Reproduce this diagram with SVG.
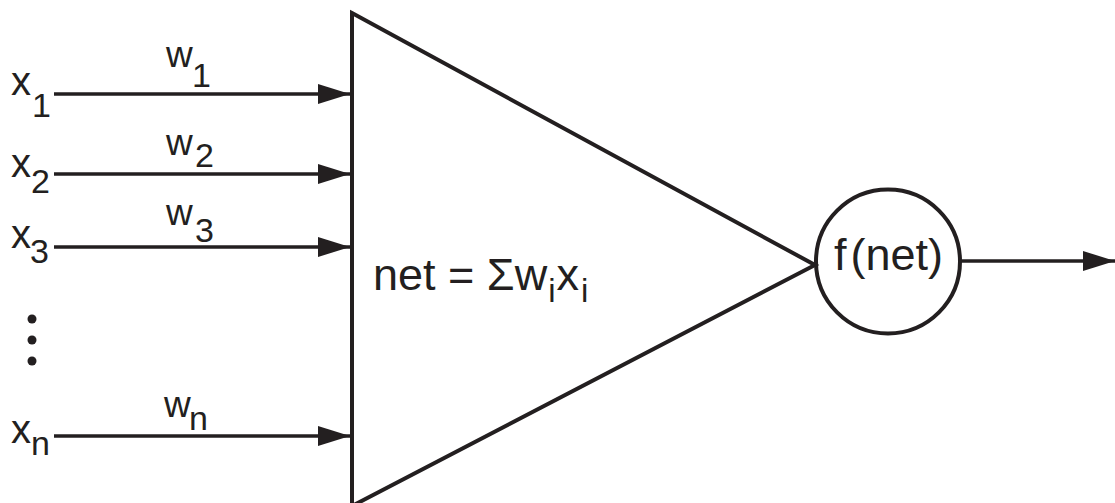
<svg xmlns="http://www.w3.org/2000/svg" width="1115" height="503" viewBox="0 0 1115 503">
<style>
.t{font-family:"Liberation Sans",Arial,sans-serif;fill:#231f20}
.x{font-size:40px}
.w{font-size:37px}
.s{font-size:34px}
.ln{stroke:#231f20;stroke-width:3.5;fill:none}
.shape{stroke:#231f20;stroke-width:4;fill:none}
</style>
<defs>
<marker id="ah" markerUnits="userSpaceOnUse" markerWidth="34" markerHeight="22" refX="32" refY="10" orient="auto">
<path d="M0,0 L32,10 L0,20 Z" fill="#231f20"/>
</marker>
</defs>
<rect width="1115" height="503" fill="#fff"/>
<g id="connectors">
<line class="ln" x1="54" y1="94" x2="350" y2="94" marker-end="url(#ah)"/>
<line class="ln" x1="54" y1="174" x2="350" y2="174" marker-end="url(#ah)"/>
<line class="ln" x1="54" y1="247" x2="350" y2="247" marker-end="url(#ah)"/>
<line class="ln" x1="54" y1="436" x2="350" y2="436" marker-end="url(#ah)"/>
<line class="ln" x1="961" y1="261" x2="1115" y2="261" marker-end="url(#ah)"/>
</g>
<g id="inputs">
<text class="t x" x="11" y="95">x<tspan class="s" x="32" y="117">1</tspan></text>
<text class="t x" x="11" y="177">x<tspan class="s" x="31" y="193">2</tspan></text>
<text class="t x" x="11" y="248">x<tspan class="s" x="30" y="263">3</tspan></text>
<text class="t x" x="11" y="443">x<tspan class="s" x="31" y="455">n</tspan></text>
<circle cx="32" cy="319" r="4.5" fill="#231f20"/>
<circle cx="32" cy="340" r="4.5" fill="#231f20"/>
<circle cx="32" cy="361" r="4.5" fill="#231f20"/>
</g>
<g id="weights">
<text class="t w" x="166" y="67">w<tspan class="s" x="192" y="87">1</tspan></text>
<text class="t w" x="166" y="155">w<tspan class="s" x="195" y="167">2</tspan></text>
<text class="t w" x="166" y="225">w<tspan class="s" x="195" y="242">3</tspan></text>
<text class="t w" x="164" y="417">w<tspan class="s" x="189" y="430">n</tspan></text>
</g>
<g id="summation">
<polygon class="shape" points="352,13 815,265 352,506"/>
<text class="t" font-size="45" x="373" y="290">net = Σw<tspan font-size="33" dx="1" dy="12">i</tspan><tspan dx="1" dy="-12">x</tspan><tspan font-size="33" dx="2" dy="12">i</tspan></text>
</g>
<g id="activation">
<circle class="shape" cx="888" cy="261.5" r="72"/>
<text class="t" font-size="45" x="834" y="270">f<tspan dx="4">(net)</tspan></text>
</g>
</svg>
